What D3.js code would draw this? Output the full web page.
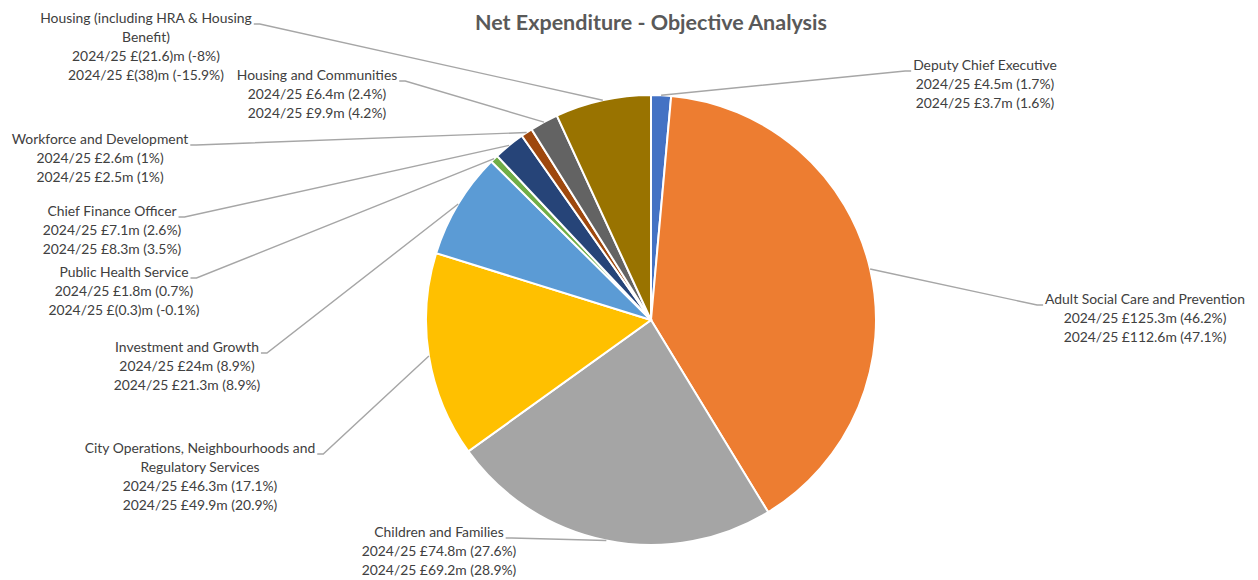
<!DOCTYPE html>
<html>
<head>
<meta charset="utf-8">
<script src="https://cdn.jsdelivr.net/npm/d3@7/dist/d3.min.js"></script>
<style>
  html, body { margin: 0; padding: 0; background: #fff; }
  svg { display: block; }
</style>
</head>
<body>
<svg id="chart" width="1258" height="580"></svg>
<script>
// ---- Data ----
const title = "Net Expenditure - Objective Analysis";
const categories = [
  "Deputy Chief Executive",
  "Adult Social Care and Prevention",
  "Children and Families",
  "City Operations, Neighbourhoods and\nRegulatory Services",
  "Investment and Growth",
  "Public Health Service",
  "Chief Finance Officer",
  "Workforce and Development",
  "Housing and Communities",
  "Housing (including HRA & Housing\nBenefit)"
];
const periodLabels = ["2024/25", "2024/25"];
const valuesA = [4.5, 125.3, 74.8, 46.3, 24, 1.8, 7.1, 2.6, 6.4, -21.6];
const pctA    = [1.7, 46.2, 27.6, 17.1, 8.9, 0.7, 2.6, 1, 2.4, -8];
const valuesB = [3.7, 112.6, 69.2, 49.9, 21.3, -0.3, 8.3, 2.5, 9.9, -38];
const pctB    = [1.6, 47.1, 28.9, 20.9, 8.9, -0.1, 3.5, 1, 4.2, -15.9];
const colors = ["#4472C4", "#ED7D31", "#A5A5A5", "#FFC000", "#5B9BD5",
                "#70AD47", "#264478", "#9E480E", "#636363", "#997300"];

// ---- Layout (positions only) ----
const W = 1258, H = 580;
const cx = 651, cy = 320, R = 225;
const labelLayout = [
  {x: 985, y: 70, side: "right"},
  {x: 1145, y: 304, side: "right"},
  {x: 439, y: 537, side: "left"},
  {x: 200, y: 453, side: "left"},
  {x: 187, y: 352, side: "left"},
  {x: 124, y: 277, side: "left"},
  {x: 112, y: 216, side: "left"},
  {x: 100, y: 144, side: "left"},
  {x: 317, y: 80, side: "left"},
  {x: 146, y: 23, side: "left"}
];
const lineH = 19;

const svg = d3.select("#chart");
const font = "Lato, 'Open Sans', sans-serif";

svg.append("text")
  .attr("x", cx).attr("y", 30)
  .attr("text-anchor", "middle")
  .attr("font-family", font)
  .attr("font-weight", "bold")
  .attr("font-size", 21.5)
  .attr("fill", "#595959")
  .text(title);

const data = categories.map((c, i) => ({
  name: c, v: valuesA[i], p: pctA[i], v2: valuesB[i], p2: pctB[i], color: colors[i], i
}));

const pie = d3.pie().sort(null).value(d => Math.abs(d.v));
const arcs = pie(data);
const arc = d3.arc().innerRadius(0).outerRadius(R);

const g = svg.append("g").attr("transform", `translate(${cx},${cy})`);
g.selectAll("path.slice").data(arcs).join("path")
  .attr("class", "slice")
  .attr("d", arc)
  .attr("fill", d => d.data.color)
  .attr("stroke", "#fff")
  .attr("stroke-width", 2);

function fmtMoney(v) {
  return v < 0 ? `£(${Math.abs(v)})m` : `£${v}m`;
}

const labels = svg.append("g");
arcs.forEach((a, i) => {
  const d = a.data;
  const L = labelLayout[i];
  const lines = d.name.split("\n").concat([
    `${periodLabels[0]} ${fmtMoney(d.v)} (${d.p}%)`,
    `${periodLabels[1]} ${fmtMoney(d.v2)} (${d.p2}%)`
  ]);
  const t = labels.append("text")
    .attr("font-family", font)
    .attr("font-size", 13.9)
    .attr("fill", "#404040")
    .attr("text-anchor", "middle");
  lines.forEach((ln, k) => {
    t.append("tspan").attr("x", L.x).attr("y", L.y + k * lineH).text(ln);
  });
  const firstW = t.select("tspan").node().getComputedTextLength();
  const mid = (a.startAngle + a.endAngle) / 2;
  const px = cx + R * Math.sin(mid), py = cy - R * Math.cos(mid);
  const ly = L.y + 1;
  let sx, stub;
  if (L.side === "left") { sx = L.x + firstW / 2 + 2; stub = sx + 6; }
  else { sx = L.x - firstW / 2 - 2; stub = sx - 6; }
  labels.append("polyline")
    .attr("points", `${sx},${ly} ${stub},${ly} ${px},${py}`)
    .attr("fill", "none")
    .attr("stroke", "#A6A6A6")
    .attr("stroke-width", 1.4);
});
</script>
</body>
</html>
